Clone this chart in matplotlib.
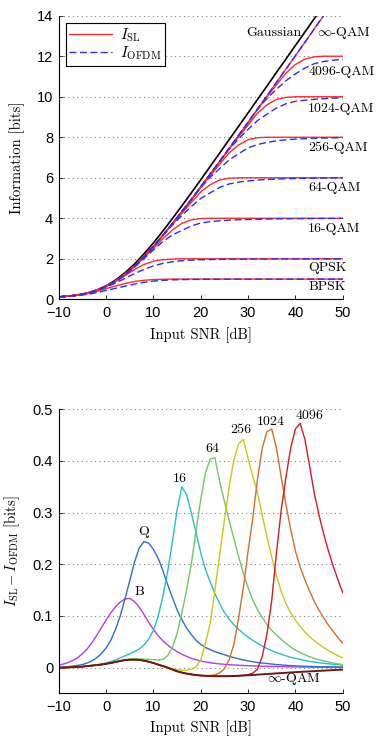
import numpy as np
import matplotlib
matplotlib.use("Agg")
import matplotlib.pyplot as plt
from matplotlib.ticker import FuncFormatter

plt.rcParams['mathtext.fontset'] = 'cm'
plt.rcParams['axes.unicode_minus'] = True

# SNR grids (dB)
snr_top = np.arange(-10, 51, 2)
snr_bot = np.arange(-10, 51, 1)

# top panel: information in bits (2 dB steps)
gaussian = [0.12, 0.16, 0.22, 0.31, 0.46, 0.67, 0.95, 1.31, 1.74, 2.24, 2.78, 3.37, 3.98, 4.61, 5.25, 5.90,
            6.56, 7.22, 7.88, 8.54, 9.20, 9.87, 10.53, 11.20, 11.86, 12.53, 13.19, 13.86, 14.52, 15.18, 15.85]
sl_inf = [0.12, 0.16, 0.21, 0.30, 0.44, 0.64, 0.90, 1.24, 1.64, 2.11, 2.61, 3.16, 3.73, 4.32, 4.92, 5.54,
          6.17, 6.80, 7.44, 8.08, 8.73, 9.39, 10.04, 10.70, 11.36, 12.02, 12.68, 13.35, 14.01, 14.67, 15.34]
sl_bpsk = [0.11, 0.15, 0.20, 0.28, 0.39, 0.53, 0.66, 0.78, 0.88, 0.94, 0.975, 0.99, 0.997] + [1.0] * 18
sl_qpsk = [0.12, 0.16, 0.21, 0.30, 0.44, 0.63, 0.88, 1.17, 1.47, 1.72, 1.88, 1.96, 1.99] + [2.0] * 18
sl_16 = [0.12, 0.16, 0.21, 0.30, 0.44, 0.64, 0.89, 1.21, 1.61, 2.05, 2.51, 2.99, 3.42, 3.75, 3.92,
         3.99] + [4.0] * 15
sl_64 = [0.12, 0.16, 0.21, 0.30, 0.44, 0.64, 0.90, 1.24, 1.64, 2.11, 2.61, 3.15, 3.70, 4.24, 4.78, 5.30,
         5.66, 5.89, 5.98] + [6.0] * 12
sl_256 = [0.12, 0.16, 0.21, 0.30, 0.44, 0.64, 0.90, 1.24, 1.64, 2.11, 2.61, 3.16, 3.73, 4.32, 4.91, 5.52,
          6.11, 6.67, 7.23, 7.62, 7.88, 7.98] + [8.0] * 9
sl_1024 = [0.12, 0.16, 0.21, 0.30, 0.44, 0.64, 0.90, 1.24, 1.64, 2.11, 2.61, 3.16, 3.73, 4.32, 4.92, 5.54,
           6.17, 6.79, 7.42, 8.02, 8.61, 9.19, 9.60, 9.87, 9.97] + [10.0] * 6
sl_4096 = [0.12, 0.16, 0.21, 0.30, 0.44, 0.64, 0.90, 1.24, 1.64, 2.11, 2.61, 3.16, 3.73, 4.32, 4.92, 5.54,
           6.17, 6.80, 7.44, 8.08, 8.72, 9.37, 9.99, 10.59, 11.16, 11.59, 11.86, 11.97, 12.0, 12.0, 12.0]

# bottom panel: I_SL - I_OFDM in bits (1 dB steps)
d_inf = [0.0, 0.0, 0.0005, 0.001, 0.0015, 0.002, 0.003, 0.004, 0.005, 0.006,
         0.0075, 0.009, 0.011, 0.013, 0.0145, 0.0155, 0.0155, 0.015, 0.0135, 0.0115,
         0.009, 0.006, 0.003, 0.0, -0.0035, -0.007, -0.0095, -0.0115, -0.013, -0.0143,
         -0.0152, -0.0158, -0.0162, -0.0165, -0.0166, -0.0166, -0.0164, -0.0161, -0.0157, -0.0152,
         -0.0147, -0.0141, -0.0135, -0.0129, -0.0123, -0.0117, -0.0111, -0.0105, -0.0099, -0.0093,
         -0.0087, -0.0082, -0.0077, -0.0072, -0.0067, -0.0062, -0.0057, -0.0052, -0.0047, -0.0042, -0.0037]
d_b = [0.005, 0.007, 0.010, 0.014, 0.019, 0.027, 0.036, 0.048, 0.062, 0.077,
       0.092, 0.106, 0.118, 0.127, 0.133, 0.134, 0.128, 0.117, 0.103, 0.088,
       0.074, 0.062, 0.052, 0.044, 0.037, 0.031, 0.026, 0.022, 0.018, 0.0155,
       0.013, 0.011, 0.0095, 0.0083, 0.0073, 0.0065, 0.0058, 0.0052, 0.0047, 0.0042,
       0.0038, 0.0034, 0.0031, 0.0028, 0.0025, 0.0023, 0.0021, 0.0019, 0.0017, 0.0016,
       0.0015, 0.0014, 0.0013, 0.0012, 0.0011, 0.001, 0.001, 0.0009, 0.0009, 0.0008, 0.0008]
d_q = [0.001, 0.0015, 0.002, 0.003, 0.0045, 0.006, 0.009, 0.013, 0.019, 0.027,
       0.038, 0.053, 0.074, 0.100, 0.133, 0.168, 0.204, 0.231, 0.244, 0.241,
       0.229, 0.212, 0.188, 0.161, 0.136, 0.112, 0.093, 0.077, 0.064, 0.053,
       0.045, 0.039, 0.035, 0.031, 0.028, 0.025, 0.022, 0.0195, 0.017, 0.015,
       0.013, 0.0115, 0.010, 0.009, 0.008, 0.007, 0.006, 0.0053, 0.0046, 0.004,
       0.0035, 0.003, 0.0027, 0.0024, 0.0021, 0.0019, 0.0017, 0.0015, 0.0013, 0.0012, 0.001]
d_16 = [0.0, 0.0, 0.0005, 0.001, 0.0015, 0.002, 0.003, 0.004, 0.0055, 0.007,
        0.009, 0.012, 0.015, 0.019, 0.023, 0.027, 0.031, 0.036, 0.044, 0.055,
        0.072, 0.099, 0.138, 0.185, 0.243, 0.305, 0.350, 0.335, 0.300, 0.262,
        0.222, 0.190, 0.166, 0.143, 0.124, 0.107, 0.094, 0.083, 0.074, 0.066,
        0.059, 0.053, 0.047, 0.042, 0.037, 0.033, 0.029, 0.026, 0.023, 0.020,
        0.018, 0.016, 0.014, 0.012, 0.011, 0.0095, 0.0085, 0.0075, 0.0065, 0.0058, 0.005]
d_64 = [0.0, 0.0, 0.0005, 0.001, 0.0015, 0.002, 0.003, 0.004, 0.005, 0.0065,
        0.008, 0.0095, 0.0115, 0.0135, 0.0155, 0.0165, 0.017, 0.017, 0.0165, 0.016,
        0.0155, 0.015, 0.016, 0.023, 0.039, 0.066, 0.105, 0.150, 0.200, 0.265,
        0.325, 0.377, 0.404, 0.406, 0.360, 0.322, 0.285, 0.250, 0.215, 0.183,
        0.155, 0.131, 0.112, 0.097, 0.083, 0.072, 0.063, 0.055, 0.047, 0.040,
        0.034, 0.029, 0.025, 0.021, 0.018, 0.015, 0.013, 0.011, 0.009, 0.0075, 0.006]
d_256 = d_inf[:20] + [0.009, 0.006, 0.003, 0.0005, -0.002, -0.004, -0.005, -0.005, -0.003, 0.001,
                      0.015, 0.047, 0.086, 0.150, 0.218, 0.285, 0.350, 0.402, 0.433, 0.442,
                      0.405, 0.370, 0.338, 0.295, 0.253, 0.214, 0.178, 0.148, 0.124, 0.106,
                      0.092, 0.080, 0.069, 0.060, 0.052, 0.045, 0.039, 0.033, 0.028, 0.023, 0.019]
d_1024 = d_inf[:30] + [-0.0152, -0.0155, -0.0152, -0.014, -0.010, -0.002, 0.015, 0.045, 0.095, 0.155,
                       0.225, 0.290, 0.365, 0.425, 0.457, 0.462, 0.425, 0.369, 0.316, 0.268,
                       0.226, 0.195, 0.170, 0.148, 0.128, 0.111, 0.096, 0.082, 0.070, 0.058, 0.047]
d_4096 = d_inf[:38] + [-0.0155, -0.0148,
                       -0.0135, -0.0105, -0.003, 0.022, 0.065, 0.130, 0.222, 0.305, 0.368, 0.425,
                       0.462, 0.473, 0.442, 0.390, 0.337, 0.295, 0.258, 0.225, 0.196, 0.170, 0.145]

sl_curves = [sl_bpsk, sl_qpsk, sl_16, sl_64, sl_256, sl_1024, sl_4096, sl_inf]
diff_curves = [d_b, d_q, d_16, d_64, d_256, d_1024, d_4096, d_inf]

serif = 'cmr10'
sans = 'Liberation Sans'
red = '#ff2a2a'
blue = '#2a2aff'

fig = plt.figure(figsize=(3.82, 7.38), dpi=100)
ax1 = fig.add_axes([0.1537, 0.5944, 0.7435, 0.3843])
ax2 = fig.add_axes([0.1537, 0.0603, 0.7435, 0.3851])

# ---- top panel ----
ax1.plot(snr_top, gaussian, color='k', lw=1.2)
for sl, d in zip(sl_curves, diff_curves):
    sl = np.array(sl)
    ofdm = sl - np.array(d)[::2]
    l_sl, = ax1.plot(snr_top, sl, color=red, lw=1.0)
    l_of, = ax1.plot(snr_top, ofdm, color=blue, lw=1.0, ls=(0, (5, 2.5)))

leg = ax1.legend([l_sl, l_of], [r'$I_{\mathrm{SL}}$', r'$I_{\mathrm{OFDM}}$'], loc='upper left',
                 fancybox=False, edgecolor='k', framealpha=1, fontsize=11, handlelength=2.8,
                 borderpad=0.25, labelspacing=0.05, handletextpad=0.5, borderaxespad=0.45)
leg.get_frame().set_linewidth(0.8)

ax1.text(41.3, 13.13, 'Gaussian', ha='right', va='center', fontsize=10, family=serif)
ax1.text(44.5, 13.13, r'$\infty$-QAM', ha='left', va='center', fontsize=10, family=serif)
for txt, yy in [('4096-QAM', 11.23), ('1024-QAM', 9.38), ('256-QAM', 7.48), ('64-QAM', 5.51),
                ('16-QAM', 3.48), ('QPSK', 1.56), ('BPSK', 0.59)]:
    ax1.text(42.7, yy, txt, ha='left', va='center', fontsize=10, family=serif)

ax1.set_xlim(-10, 50)
ax1.set_ylim(0, 14)
ax1.set_yticks(range(0, 15, 2))
ax1.set_xticks(range(-10, 51, 10))
ax1.set_xlabel('Input SNR [dB]', family=serif, fontsize=10.5)
ax1.set_ylabel('Information [bits]', family=serif, fontsize=10.5)
ax1.xaxis.set_label_coords(0.5, -0.1)
ax1.yaxis.set_label_coords(-0.12, 0.5)

# ---- bottom panel ----
bot_colors = ['#b43ce6', '#2a6ed2', '#28bec8', '#6ec864', '#c8c814', '#d26e28', '#d21e1e']
for d, c in zip(diff_curves[:7], bot_colors):
    ax2.plot(snr_bot, d, color=c, lw=1.0)
ax2.plot(snr_bot, d_inf, color='#6e1a10', lw=1.4)

for txt, xx, yy in [('B', 7.0, 0.147), ('Q', 8.0, 0.263), ('16', 15.5, 0.366), ('64', 22.4, 0.424),
                    ('256', 28.45, 0.46), ('1024', 34.8, 0.475), ('4096', 42.9, 0.487)]:
    ax2.text(xx, yy, txt, ha='center', va='center', fontsize=10, family=serif)
ax2.text(39.7, -0.021, r'$\infty$-QAM', ha='center', va='center', fontsize=10, family=serif)

ax2.set_xlim(-10, 50)
ax2.set_ylim(-0.05, 0.5)
ax2.set_yticks([0, 0.1, 0.2, 0.3, 0.4, 0.5])
ax2.set_xticks(range(-10, 51, 10))
ax2.yaxis.set_major_formatter(FuncFormatter(lambda v, _: '0' if abs(v) < 1e-9 else f'{v:g}'))
ax2.set_xlabel('Input SNR [dB]', family=serif, fontsize=10.5)
ax2.set_ylabel(r'$I_{\rm SL} - I_{\rm OFDM}$ [bits]', family=serif, fontsize=10.5)
ax2.xaxis.set_label_coords(0.5, -0.095)
ax2.yaxis.set_label_coords(-0.13, 0.5)

for ax in (ax1, ax2):
    ax.spines['top'].set_visible(False)
    ax.spines['right'].set_visible(False)
    ax.spines['left'].set_linewidth(0.8)
    ax.spines['bottom'].set_linewidth(0.8)
    ax.yaxis.grid(True, ls=(0, (1, 3)), color='0.5', lw=0.8)
    ax.set_axisbelow(True)
    ax.tick_params(direction='in', length=3, width=0.6, labelsize=10.5)
    ax.tick_params(axis='x', pad=5)
    ax.tick_params(axis='y', pad=4)
    for lab in ax.get_xticklabels() + ax.get_yticklabels():
        lab.set_family(sans)

fig.savefig('out.png', dpi=100)
